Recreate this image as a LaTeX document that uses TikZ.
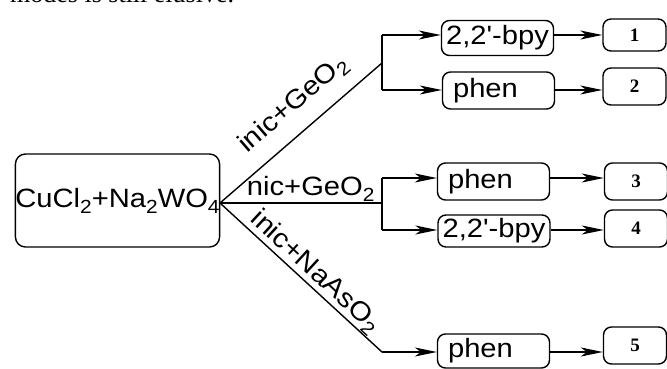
\documentclass[tikz,border=0pt]{standalone}
\usepackage{fontspec}
\setmainfont{Liberation Sans}[FakeStretch=1.1,Ligatures=TeXOff]
\newfontfamily\numfont{Liberation Serif}
\usetikzlibrary{arrows.meta}
\newcommand\chsub[1]{\raisebox{-0.22em}{\fontsize{19}{19}\selectfont #1}}
\tikzset{
  ln/.style={line width=1.4pt},
  arr/.style={ln,-{Stealth[length=22pt,width=9pt,inset=6pt]}},
  bigtxt/.style={font=\fontsize{26.5}{28}\selectfont},
  midbox/.style={draw,line width=1.4pt,rounded corners=8pt,minimum width=112pt,minimum height=35pt,inner sep=0pt,bigtxt},
  endbox/.style={draw,line width=1.4pt,rounded corners=8pt,minimum width=63pt,minimum height=35pt,inner sep=0pt,font=\numfont\bfseries\fontsize{19}{19}\selectfont},
  lab/.style={bigtxt,inner sep=1pt}
}
\begin{document}
\begin{tikzpicture}[x=1pt,y=-1pt]
\useasboundingbox (0,0) rectangle (667,369);
\clip (0,0) rectangle (667,369);
\node[anchor=base west,inner sep=0pt,font=\numfont\fontsize{26}{28}\selectfont] (top) at (10,2.5) {modes is still elusive.};
% main box
\node[draw,line width=1.4pt,rounded corners=10pt,minimum width=203pt,minimum height=93pt,inner sep=0pt,bigtxt] (main) at (117.5,200.5) {CuCl\chsub{2}+Na\chsub{2}WO\chsub{4}};
% middle boxes
\node[midbox] (m1) at (497.5,38) {2,2'-bpy};
\node[midbox,minimum height=37pt] (m2) at (498.5,90.5) {phen\kern26pt};
\node[midbox,minimum height=37pt] (m3) at (493.5,181.5) {phen\kern26pt};
\node[midbox,minimum height=32pt] (m4) at (494,231) {2,2'-bpy};
\node[midbox,minimum height=34pt] (m5) at (493.5,351) {phen\kern26pt};
% end boxes
\node[endbox,minimum height=32pt] (f1) at (634.5,35) {1};
\node[endbox,minimum height=37pt] (f2) at (634.5,86.5) {2};
\node[endbox,minimum height=37pt] (f3) at (636,181.5) {3};
\node[endbox,minimum height=37pt] (f4) at (636,228.5) {4};
\node[endbox,minimum height=37pt] (f5) at (635,345.5) {5};
% junctions
\coordinate (o) at (220,203);
\coordinate (j1) at (382,63);
\coordinate (j1t) at (382,35);
\coordinate (j1b) at (382,90);
\coordinate (j2) at (382,203);
\coordinate (j2t) at (382,178);
\coordinate (j2b) at (382,230);
\coordinate (j3) at (382,352);
% trunk lines
\draw[ln] (o) -- node[lab,sloped,anchor=south,pos=0.56,outer sep=13pt] (l1) {inic+GeO\chsub{2}} (j1);
\draw[ln] (o) -- node[lab,anchor=south,pos=0.56] (l2) {nic+GeO\chsub{2}} (j2);
\draw[ln] (o) -- node[lab,sloped,anchor=south,pos=0.53,outer sep=0pt] (l3) {inic+NaAsO\chsub{2}} (j3);
\draw[ln] (j1t) -- (j1b);
\draw[ln] (j2t) -- (j2b);
% arrows into middle boxes
\draw[arr] (j1t) -- (m1.west |- j1t);
\draw[arr] (j1b) -- (m2.west |- j1b);
\draw[arr] (j2t) -- (m3.west |- j2t);
\draw[arr] (j2b) -- (m4.west |- j2b);
\draw[arr] (j3) -- (m5.west |- j3);
% arrows into end boxes
\draw[arr] (m1.east |- j1t) -- (f1.west |- j1t);
\draw[arr] (m2.east |- j1b) -- (f2.west |- j1b);
\draw[arr] (m3.east |- j2t) -- (f3.west |- j2t);
\draw[arr] (m4.east |- j2b) -- (f4.west |- j2b);
\draw[arr] (m5.east |- j3) -- (f5.west |- j3);
\end{tikzpicture}
\end{document}
